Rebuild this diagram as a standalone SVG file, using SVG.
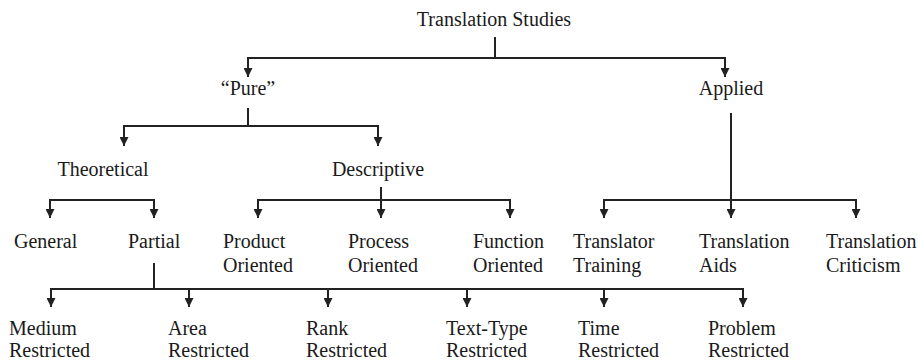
<svg xmlns="http://www.w3.org/2000/svg" width="918" height="362" viewBox="0 0 918 362">
<defs>
<style>
text{font-family:"Liberation Serif","Times New Roman",serif;font-size:20px;fill:#1a1a1a}
.c{text-anchor:middle}
.e{fill:none;stroke:#222;stroke-width:2}
.a{marker-end:url(#ah)}
</style>
<marker id="ah" viewBox="0 0 10 10" refX="10" refY="5" markerWidth="9" markerHeight="9" markerUnits="userSpaceOnUse" orient="auto">
<path d="M0,0 L10,5 L0,10 z" fill="#222"/>
</marker>
</defs>
<rect width="918" height="362" fill="#fff"/>
<g id="connectors">
<path class="e" d="M495,37 V58"/>
<path class="e a" d="M495,58 H248 V77"/>
<path class="e a" d="M495,58 H725 V77"/>
<path class="e" d="M248,108 V126"/>
<path class="e a" d="M248,126 H124 V146"/>
<path class="e a" d="M248,126 H378 V146"/>
<path class="e a" d="M102,200 H50 V218"/>
<path class="e a" d="M102,200 H154 V218"/>
<path class="e a" d="M381,187 V218"/>
<path class="e a" d="M381,200 H258 V218"/>
<path class="e a" d="M381,200 H510 V218"/>
<path class="e a" d="M731,113 V218"/>
<path class="e a" d="M731,200 H604 V218"/>
<path class="e a" d="M731,200 H856 V218"/>
<path class="e" d="M154,263 V289"/>
<path class="e a" d="M154,289 H51 V307"/>
<path class="e a" d="M154,289 H189 V307"/>
<path class="e a" d="M154,289 H328 V307"/>
<path class="e a" d="M154,289 H467 V307"/>
<path class="e a" d="M154,289 H604 V307"/>
<path class="e a" d="M154,289 H743 V307"/>
</g>
<g id="translation-studies"><text class="c" x="494" y="26">Translation Studies</text></g>
<g id="pure"><text class="c" x="248" y="95">“Pure”</text></g>
<g id="applied"><text class="c" x="731" y="95">Applied</text></g>
<g id="theoretical"><text class="c" x="103" y="176">Theoretical</text></g>
<g id="descriptive"><text class="c" x="378" y="176">Descriptive</text></g>
<g id="general"><text x="14" y="248">General</text></g>
<g id="partial"><text x="128" y="248">Partial</text></g>
<g id="product-oriented"><text x="223" y="248">Product</text><text x="223" y="272">Oriented</text></g>
<g id="process-oriented"><text x="348" y="248">Process</text><text x="348" y="272">Oriented</text></g>
<g id="function-oriented"><text x="473" y="248">Function</text><text x="473" y="272">Oriented</text></g>
<g id="translator-training"><text x="573" y="248">Translator</text><text x="573" y="272">Training</text></g>
<g id="translation-aids"><text x="699" y="248">Translation</text><text x="699" y="272">Aids</text></g>
<g id="translation-criticism"><text x="826" y="248">Translation</text><text x="826" y="272">Criticism</text></g>
<g id="medium-restricted"><text x="9" y="335">Medium</text><text x="9" y="357">Restricted</text></g>
<g id="area-restricted"><text x="168" y="335">Area</text><text x="168" y="357">Restricted</text></g>
<g id="rank-restricted"><text x="306" y="335">Rank</text><text x="306" y="357">Restricted</text></g>
<g id="text-type-restricted"><text x="446" y="335">Text-Type</text><text x="446" y="357">Restricted</text></g>
<g id="time-restricted"><text x="578" y="335">Time</text><text x="578" y="357">Restricted</text></g>
<g id="problem-restricted"><text x="708" y="335">Problem</text><text x="708" y="357">Restricted</text></g>
</svg>
